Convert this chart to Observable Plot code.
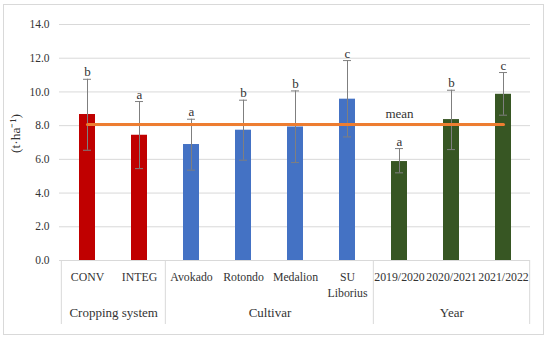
<!DOCTYPE html>
<html><head><meta charset="utf-8">
<script src="https://cdn.jsdelivr.net/npm/d3@7"></script>
<script src="https://cdn.jsdelivr.net/npm/@observablehq/plot@0.6"></script>
<style>
html,body{margin:0;padding:0;background:#fff;}
#wrap{position:relative;width:550px;height:341px;}
#frame{position:absolute;left:3px;top:4px;width:541px;height:331px;border:1px solid #d9d9d9;box-sizing:border-box;pointer-events:none;}
</style>
</head><body>
<div id="wrap"><div id="chart"></div><div id="frame"></div></div>
<script>
const categories = ["CONV","INTEG","Avokado","Rotondo","Medalion","SU Liborius","2019/2020","2020/2021","2021/2022"];
const groups = ["Cropping system","Cropping system","Cultivar","Cultivar","Cultivar","Cultivar","Year","Year","Year"];
const yields = [8.66,7.43,6.88,7.73,7.92,9.57,5.87,8.36,9.86];
const errLow = [6.54,5.45,5.36,5.95,5.81,7.33,5.2,6.58,8.62];
const errHigh = [10.75,9.43,8.38,9.51,10.06,11.86,6.64,10.1,11.15];
const letters = ["b","a","a","b","b","c","a","b","c"];
const groupNames = ["Cropping system","Cultivar","Year"];
const groupColors = ["#C00000","#4472C4","#375623"];
const meanValue = 8.07;
const meanLabel = "mean";
const yTicks = [0,2,4,6,8,10,12,14];
const yLabel = "(t·ha⁻¹)";

const W = 550, H = 341, mL = 59, mR = 20, mT = 24, mB = 81;
const bw = (W - mL - mR) / categories.length;
const plotH = H - mT - mB;

const rows = categories.map((c, i) => ({category: c, group: groups[i], value: yields[i], lo: errLow[i], hi: errHigh[i], letter: letters[i]}));
const spans = groupNames.map(g => {
  const idx = rows.filter(r => r.group === g);
  return {name: g, first: idx[0].category, last: idx[idx.length - 1].category, n: idx.length};
});
const meanRows = [{category: categories[0], value: meanValue}, {category: categories[categories.length - 1], value: meanValue}];

const font = "'Liberation Serif', 'Times New Roman', serif";
const textColor = "#333333";
const errColor = "#7f7f7f";
const lineColor = "#d9d9d9";

const chart = Plot.plot({
  width: W, height: H,
  marginLeft: mL, marginRight: mR, marginTop: mT, marginBottom: mB,
  style: {fontFamily: font, fontSize: "11px", color: textColor, background: "transparent"},
  x: {domain: categories, padding: 0},
  y: {domain: [0, 14]},
  color: {domain: groupNames, range: groupColors},
  marks: [
    Plot.gridY(yTicks, {stroke: lineColor, strokeOpacity: 1}),
    Plot.axisY(yTicks, {tickSize: 0, tickPadding: 10, tickFormat: d => d.toFixed(1), fontSize: 11.5, label: null, fill: textColor}),
    Plot.axisX({tickSize: 0, tickPadding: 10, fontSize: 11.8, lineHeight: 1.3, tickFormat: d => d.replace(" ", "\n"), label: null, fill: textColor}),
    Plot.barY(rows, {x: "category", y: "value", fill: "group", insetLeft: 18, insetRight: 18}),
    Plot.ruleX(rows, {x: "category", y1: "lo", y2: "hi", stroke: errColor, strokeWidth: 1}),
    Plot.tickY(rows, {x: "category", y: "lo", stroke: errColor, insetLeft: 22, insetRight: 22}),
    Plot.tickY(rows, {x: "category", y: "hi", stroke: errColor, insetLeft: 22, insetRight: 22}),
    Plot.line(meanRows, {x: "category", y: "value", stroke: "#ED7D31", strokeWidth: 3}),
    Plot.text([meanLabel], {x: () => categories[6], y: () => meanValue, text: d => d, dy: -11, fontSize: 13, fill: textColor}),
    Plot.text(rows, {x: "category", y: "hi", text: "letter", lineAnchor: "bottom", dy: -3, fontSize: 13, fill: textColor}),
    ...spans.map(s => Plot.text([s], {x: "first", text: "name", dx: (s.n - 1) * bw / 2, frameAnchor: "bottom", dy: 56, fontSize: 13, fill: textColor})),
    Plot.ruleX(spans, {x: "first", dx: -bw / 2, stroke: lineColor, insetTop: plotH, insetBottom: -64}),
    Plot.ruleX(spans.slice(-1), {x: "last", dx: bw / 2, stroke: lineColor, insetTop: plotH, insetBottom: -64}),
    Plot.text([yLabel], {text: d => d, frameAnchor: "left", textAnchor: "middle", rotate: -90, dx: -44, dy: -9, fontSize: 13.5, fill: textColor})
  ]
});
document.getElementById("chart").appendChild(chart);
</script>
</body></html>
